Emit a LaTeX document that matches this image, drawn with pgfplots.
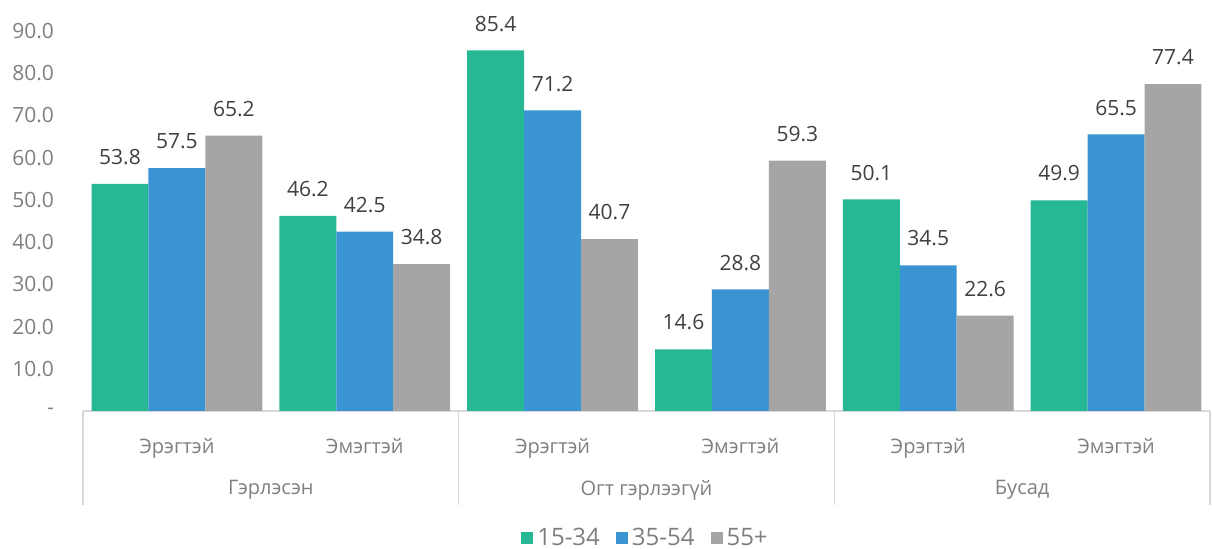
\documentclass[border=0pt]{standalone}
\usepackage{fontspec}
\setmainfont{Open Sans}
\usepackage{pgfplots}
\pgfplotsset{compat=1.18}

\definecolor{cteal}{HTML}{26B894}
\definecolor{cblue}{HTML}{3A93D3}
\definecolor{cgray}{HTML}{A5A5A5}
\definecolor{txtgray}{HTML}{7F7F7F}
\definecolor{lblgray}{HTML}{404040}
\definecolor{linegray}{HTML}{D9D9D9}

\begin{document}
\begin{tikzpicture}
\useasboundingbox (-41.5pt,-69pt) rectangle (564.5pt,205.5pt);
\begin{axis}[
    scale only axis,
    width=563.5pt, height=190pt,
    xmin=-0.5, xmax=5.5,
    ymin=0, ymax=90,
    clip=false,
    ybar=0pt, bar width=0.303,
    axis x line*=bottom,
    axis y line*=left,
    x axis line style={draw=linegray, line width=0.8pt},
    y axis line style={draw=none},
    ytick={0,10,...,90},
    yticklabels={-,10.0,20.0,30.0,40.0,50.0,60.0,70.0,80.0,90.0},
    yticklabel style={font=\fontsize{10.5}{12}\selectfont, text=txtgray, xshift=-11pt},
    xtick={0,1,2,3,4,5},
    xticklabels={Эрэгтэй,Эмэгтэй,Эрэгтэй,Эмэгтэй,Эрэгтэй,Эмэгтэй},
    major tick length=0pt,
    xticklabel style={font=\fontsize{10}{12}\selectfont, text=txtgray, yshift=-10pt},
    nodes near coords,
    every node near coord/.append style={font=\fontsize{10.5}{12}\selectfont, text=lblgray, yshift=6pt},
    nodes near coords style={/pgf/number format/.cd, fixed, fixed zerofill, precision=1, assume math mode=true},
    legend style={at={(0.5,-0.335)}, anchor=center, draw=none, legend columns=3,
        font=\fontsize{12}{14}\selectfont, text=txtgray,
        /tikz/every even column/.append style={column sep=6pt}},
    legend image code/.code={\fill[#1] (0pt,-3pt) rectangle (6pt,3pt);},
]
\addplot[fill=cteal, draw=none, bar shift=-0.303] coordinates {(0,53.8) (1,46.2) (2,85.4) (3,14.6) (4,50.1) (5,49.9)};
\addplot[fill=cblue, draw=none, bar shift=0] coordinates {(0,57.5) (1,42.5) (2,71.2) (3,28.8) (4,34.5) (5,65.5)};
\addplot[fill=cgray, draw=none, bar shift=0.303] coordinates {(0,65.2) (1,34.8) (2,40.7) (3,59.3) (4,22.6) (5,77.4)};
\legend{15-34,35-54,55+}
\draw[linegray, line width=0.8pt] (axis cs:-0.5,0) -- ([yshift=-47pt]axis cs:-0.5,0);
\draw[linegray, line width=0.8pt] (axis cs:1.5,0) -- ([yshift=-47pt]axis cs:1.5,0);
\draw[linegray, line width=0.8pt] (axis cs:3.5,0) -- ([yshift=-47pt]axis cs:3.5,0);
\draw[linegray, line width=0.8pt] (axis cs:5.5,0) -- ([yshift=-47pt]axis cs:5.5,0);
\node[text=txtgray, font=\fontsize{10}{12}\selectfont] at ([yshift=-39.5pt]axis cs:0.5,0) {Гэрлэсэн};
\node[text=txtgray, font=\fontsize{10}{12}\selectfont] at ([yshift=-39.5pt]axis cs:2.5,0) {Огт гэрлээгүй};
\node[text=txtgray, font=\fontsize{10}{12}\selectfont] at ([yshift=-39.5pt]axis cs:4.5,0) {Бусад};
\end{axis}
\end{tikzpicture}
\end{document}
